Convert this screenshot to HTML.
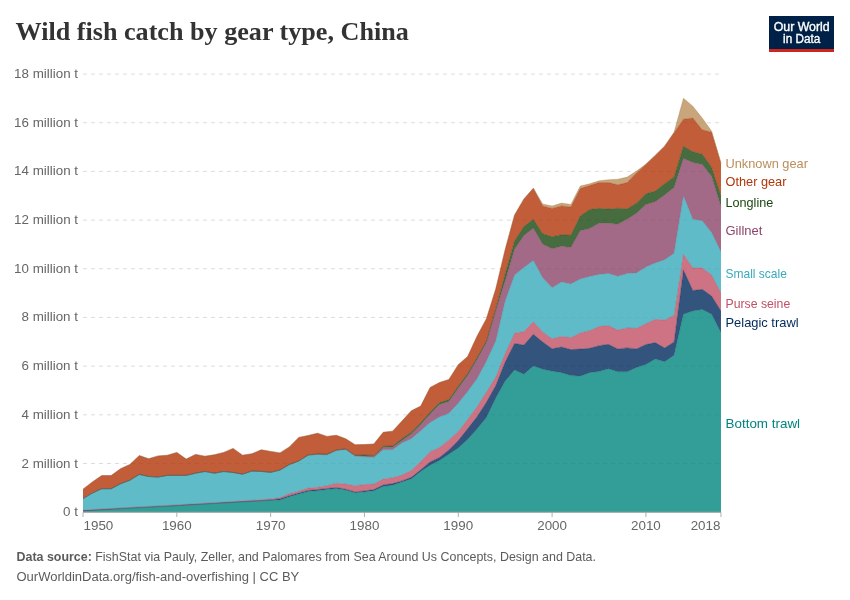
<!DOCTYPE html>
<html><head><meta charset="utf-8"><style>
html,body{margin:0;padding:0;background:#fff;width:850px;height:600px;overflow:hidden}
svg{display:block;will-change:transform}
.t{font-family:"Liberation Serif",serif;font-weight:bold;font-size:26px;fill:#333}
.ax text{font-family:"Liberation Sans",sans-serif;font-size:13px;fill:#666}
.lg text{font-family:"Liberation Sans",sans-serif;font-size:13px}
.ft{font-family:"Liberation Sans",sans-serif;fill:#5b5b5b}
.logo{font-family:"Liberation Sans",sans-serif;font-weight:normal;font-size:12px;fill:#fff;stroke:#fff;stroke-width:0.35px}
</style></head><body>
<svg width="850" height="600" viewBox="0 0 850 600">
<rect width="850" height="600" fill="#fff"/>
<text class="t" x="15.5" y="39.6" textLength="393.3" lengthAdjust="spacingAndGlyphs">Wild fish catch by gear type, China</text>
<rect x="769" y="16" width="65" height="36" fill="#002147"/>
<rect x="769" y="49" width="65" height="3" fill="#ce261e"/>
<text class="logo" x="801.7" y="30.6" text-anchor="middle" textLength="56" lengthAdjust="spacingAndGlyphs">Our World</text>
<text class="logo" x="801.7" y="42.6" text-anchor="middle" textLength="37.2" lengthAdjust="spacingAndGlyphs">in Data</text>
<g class="ax"><line x1="83" x2="721" y1="463.50" y2="463.50" stroke="#dddddd" stroke-width="1" stroke-dasharray="4,4"/><line x1="83" x2="721" y1="414.82" y2="414.82" stroke="#dddddd" stroke-width="1" stroke-dasharray="4,4"/><line x1="83" x2="721" y1="366.14" y2="366.14" stroke="#dddddd" stroke-width="1" stroke-dasharray="4,4"/><line x1="83" x2="721" y1="317.46" y2="317.46" stroke="#dddddd" stroke-width="1" stroke-dasharray="4,4"/><line x1="83" x2="721" y1="268.78" y2="268.78" stroke="#dddddd" stroke-width="1" stroke-dasharray="4,4"/><line x1="83" x2="721" y1="220.10" y2="220.10" stroke="#dddddd" stroke-width="1" stroke-dasharray="4,4"/><line x1="83" x2="721" y1="171.42" y2="171.42" stroke="#dddddd" stroke-width="1" stroke-dasharray="4,4"/><line x1="83" x2="721" y1="122.74" y2="122.74" stroke="#dddddd" stroke-width="1" stroke-dasharray="4,4"/><line x1="83" x2="721" y1="74.06" y2="74.06" stroke="#dddddd" stroke-width="1" stroke-dasharray="4,4"/><text x="78" y="516.18" text-anchor="end" textLength="14.88" lengthAdjust="spacingAndGlyphs">0 t</text><text x="78" y="467.50" text-anchor="end" textLength="56.46" lengthAdjust="spacingAndGlyphs">2 million t</text><text x="78" y="418.82" text-anchor="end" textLength="56.46" lengthAdjust="spacingAndGlyphs">4 million t</text><text x="78" y="370.14" text-anchor="end" textLength="56.46" lengthAdjust="spacingAndGlyphs">6 million t</text><text x="78" y="321.46" text-anchor="end" textLength="56.46" lengthAdjust="spacingAndGlyphs">8 million t</text><text x="78" y="272.78" text-anchor="end" textLength="63.88" lengthAdjust="spacingAndGlyphs">10 million t</text><text x="78" y="224.10" text-anchor="end" textLength="63.88" lengthAdjust="spacingAndGlyphs">12 million t</text><text x="78" y="175.42" text-anchor="end" textLength="63.88" lengthAdjust="spacingAndGlyphs">14 million t</text><text x="78" y="126.74" text-anchor="end" textLength="63.88" lengthAdjust="spacingAndGlyphs">16 million t</text><text x="78" y="78.06" text-anchor="end" textLength="63.88" lengthAdjust="spacingAndGlyphs">18 million t</text><line x1="83.00" x2="83.00" y1="512.5" y2="517" stroke="#b0b0b0" stroke-width="1"/><text x="83.50" y="530.2" text-anchor="start" textLength="29.8" lengthAdjust="spacingAndGlyphs">1950</text><line x1="176.82" x2="176.82" y1="512.5" y2="517" stroke="#b0b0b0" stroke-width="1"/><text x="176.82" y="530.2" text-anchor="middle" textLength="29.8" lengthAdjust="spacingAndGlyphs">1960</text><line x1="270.64" x2="270.64" y1="512.5" y2="517" stroke="#b0b0b0" stroke-width="1"/><text x="270.64" y="530.2" text-anchor="middle" textLength="29.8" lengthAdjust="spacingAndGlyphs">1970</text><line x1="364.46" x2="364.46" y1="512.5" y2="517" stroke="#b0b0b0" stroke-width="1"/><text x="364.46" y="530.2" text-anchor="middle" textLength="29.8" lengthAdjust="spacingAndGlyphs">1980</text><line x1="458.28" x2="458.28" y1="512.5" y2="517" stroke="#b0b0b0" stroke-width="1"/><text x="458.28" y="530.2" text-anchor="middle" textLength="29.8" lengthAdjust="spacingAndGlyphs">1990</text><line x1="552.10" x2="552.10" y1="512.5" y2="517" stroke="#b0b0b0" stroke-width="1"/><text x="552.10" y="530.2" text-anchor="middle" textLength="29.8" lengthAdjust="spacingAndGlyphs">2000</text><line x1="645.92" x2="645.92" y1="512.5" y2="517" stroke="#b0b0b0" stroke-width="1"/><text x="645.92" y="530.2" text-anchor="middle" textLength="29.8" lengthAdjust="spacingAndGlyphs">2010</text><line x1="720.98" x2="720.98" y1="512.5" y2="517" stroke="#b0b0b0" stroke-width="1"/><text x="720.48" y="530.2" text-anchor="end" textLength="29.8" lengthAdjust="spacingAndGlyphs">2018</text></g>
<g><path d="M83.00,511.00 L92.38,510.46 L101.76,509.92 L111.15,509.38 L120.53,508.84 L129.91,508.30 L139.29,507.80 L148.67,507.30 L158.06,506.80 L167.44,506.30 L176.82,505.80 L186.20,505.24 L195.58,504.68 L204.97,504.12 L214.35,503.56 L223.73,503.00 L233.11,502.50 L242.49,502.00 L251.88,501.50 L261.26,501.00 L270.64,500.50 L280.02,499.90 L289.40,496.80 L298.79,494.10 L308.17,491.50 L317.55,490.70 L326.93,489.60 L336.31,488.50 L345.70,490.10 L355.08,492.80 L364.46,492.00 L373.84,490.80 L383.22,486.50 L392.61,485.20 L401.99,482.00 L411.37,478.90 L420.75,471.50 L430.13,465.20 L439.52,460.50 L448.90,454.30 L458.28,448.00 L467.66,439.50 L477.04,429.00 L486.43,417.50 L495.81,398.00 L505.19,381.10 L514.57,370.00 L523.95,374.20 L533.34,365.90 L542.72,369.30 L552.10,371.20 L561.48,372.70 L570.86,375.60 L580.25,376.20 L589.63,372.70 L599.01,371.40 L608.39,368.80 L617.77,371.70 L627.16,371.80 L636.54,367.50 L645.92,364.40 L655.30,359.10 L664.68,361.80 L674.07,355.30 L683.45,314.30 L692.83,311.00 L702.21,309.50 L711.59,314.30 L720.98,332.80 L720.98,512.18 L711.59,512.18 L702.21,512.18 L692.83,512.18 L683.45,512.18 L674.07,512.18 L664.68,512.18 L655.30,512.18 L645.92,512.18 L636.54,512.18 L627.16,512.18 L617.77,512.18 L608.39,512.18 L599.01,512.18 L589.63,512.18 L580.25,512.18 L570.86,512.18 L561.48,512.18 L552.10,512.18 L542.72,512.18 L533.34,512.18 L523.95,512.18 L514.57,512.18 L505.19,512.18 L495.81,512.18 L486.43,512.18 L477.04,512.18 L467.66,512.18 L458.28,512.18 L448.90,512.18 L439.52,512.18 L430.13,512.18 L420.75,512.18 L411.37,512.18 L401.99,512.18 L392.61,512.18 L383.22,512.18 L373.84,512.18 L364.46,512.18 L355.08,512.18 L345.70,512.18 L336.31,512.18 L326.93,512.18 L317.55,512.18 L308.17,512.18 L298.79,512.18 L289.40,512.18 L280.02,512.18 L270.64,512.18 L261.26,512.18 L251.88,512.18 L242.49,512.18 L233.11,512.18 L223.73,512.18 L214.35,512.18 L204.97,512.18 L195.58,512.18 L186.20,512.18 L176.82,512.18 L167.44,512.18 L158.06,512.18 L148.67,512.18 L139.29,512.18 L129.91,512.18 L120.53,512.18 L111.15,512.18 L101.76,512.18 L92.38,512.18 L83.00,512.18 Z" fill="#00847E" fill-opacity="0.8"/><path d="M83.00,510.60 L92.38,510.06 L101.76,509.52 L111.15,508.98 L120.53,508.44 L129.91,507.90 L139.29,507.40 L148.67,506.90 L158.06,506.40 L167.44,505.90 L176.82,505.40 L186.20,504.84 L195.58,504.28 L204.97,503.72 L214.35,503.16 L223.73,502.60 L233.11,502.06 L242.49,501.52 L251.88,500.98 L261.26,500.44 L270.64,499.90 L280.02,498.80 L289.40,495.70 L298.79,493.10 L308.17,490.40 L317.55,489.60 L326.93,488.40 L336.31,487.60 L345.70,489.20 L355.08,492.00 L364.46,490.90 L373.84,489.60 L383.22,484.90 L392.61,483.60 L401.99,480.90 L411.37,477.30 L420.75,469.80 L430.13,461.90 L439.52,457.40 L448.90,450.00 L458.28,440.60 L467.66,428.80 L477.04,416.80 L486.43,402.30 L495.81,385.50 L505.19,362.00 L514.57,343.40 L523.95,345.10 L533.34,334.30 L542.72,342.00 L552.10,348.80 L561.48,347.00 L570.86,349.60 L580.25,349.10 L589.63,348.30 L599.01,345.70 L608.39,344.30 L617.77,348.90 L627.16,347.90 L636.54,348.90 L645.92,344.60 L655.30,342.60 L664.68,348.00 L674.07,341.90 L683.45,270.00 L692.83,290.50 L702.21,289.30 L711.59,296.00 L720.98,311.00 L720.98,332.80 L711.59,314.30 L702.21,309.50 L692.83,311.00 L683.45,314.30 L674.07,355.30 L664.68,361.80 L655.30,359.10 L645.92,364.40 L636.54,367.50 L627.16,371.80 L617.77,371.70 L608.39,368.80 L599.01,371.40 L589.63,372.70 L580.25,376.20 L570.86,375.60 L561.48,372.70 L552.10,371.20 L542.72,369.30 L533.34,365.90 L523.95,374.20 L514.57,370.00 L505.19,381.10 L495.81,398.00 L486.43,417.50 L477.04,429.00 L467.66,439.50 L458.28,448.00 L448.90,454.30 L439.52,460.50 L430.13,465.20 L420.75,471.50 L411.37,478.90 L401.99,482.00 L392.61,485.20 L383.22,486.50 L373.84,490.80 L364.46,492.00 L355.08,492.80 L345.70,490.10 L336.31,488.50 L326.93,489.60 L317.55,490.70 L308.17,491.50 L298.79,494.10 L289.40,496.80 L280.02,499.90 L270.64,500.50 L261.26,501.00 L251.88,501.50 L242.49,502.00 L233.11,502.50 L223.73,503.00 L214.35,503.56 L204.97,504.12 L195.58,504.68 L186.20,505.24 L176.82,505.80 L167.44,506.30 L158.06,506.80 L148.67,507.30 L139.29,507.80 L129.91,508.30 L120.53,508.84 L111.15,509.38 L101.76,509.92 L92.38,510.46 L83.00,511.00 Z" fill="#00295B" fill-opacity="0.8"/><path d="M83.00,510.10 L92.38,509.56 L101.76,509.02 L111.15,508.48 L120.53,507.94 L129.91,507.40 L139.29,506.90 L148.67,506.40 L158.06,505.90 L167.44,505.40 L176.82,504.90 L186.20,504.34 L195.58,503.78 L204.97,503.22 L214.35,502.66 L223.73,502.10 L233.11,501.48 L242.49,500.86 L251.88,500.24 L261.26,499.62 L270.64,499.00 L280.02,497.60 L289.40,493.60 L298.79,491.20 L308.17,488.10 L317.55,487.30 L326.93,485.70 L336.31,483.30 L345.70,484.10 L355.08,485.70 L364.46,484.60 L373.84,484.10 L383.22,479.00 L392.61,477.80 L401.99,475.10 L411.37,470.60 L420.75,461.50 L430.13,451.70 L439.52,447.40 L448.90,439.90 L458.28,431.50 L467.66,419.60 L477.04,406.80 L486.43,392.10 L495.81,377.00 L505.19,353.50 L514.57,333.30 L523.95,331.50 L533.34,321.80 L542.72,331.90 L552.10,338.80 L561.48,336.50 L570.86,337.60 L580.25,332.90 L589.63,330.70 L599.01,326.60 L608.39,325.50 L617.77,330.10 L627.16,327.90 L636.54,328.30 L645.92,323.70 L655.30,319.30 L664.68,320.00 L674.07,315.50 L683.45,254.30 L692.83,268.00 L702.21,267.80 L711.59,275.00 L720.98,293.00 L720.98,311.00 L711.59,296.00 L702.21,289.30 L692.83,290.50 L683.45,270.00 L674.07,341.90 L664.68,348.00 L655.30,342.60 L645.92,344.60 L636.54,348.90 L627.16,347.90 L617.77,348.90 L608.39,344.30 L599.01,345.70 L589.63,348.30 L580.25,349.10 L570.86,349.60 L561.48,347.00 L552.10,348.80 L542.72,342.00 L533.34,334.30 L523.95,345.10 L514.57,343.40 L505.19,362.00 L495.81,385.50 L486.43,402.30 L477.04,416.80 L467.66,428.80 L458.28,440.60 L448.90,450.00 L439.52,457.40 L430.13,461.90 L420.75,469.80 L411.37,477.30 L401.99,480.90 L392.61,483.60 L383.22,484.90 L373.84,489.60 L364.46,490.90 L355.08,492.00 L345.70,489.20 L336.31,487.60 L326.93,488.40 L317.55,489.60 L308.17,490.40 L298.79,493.10 L289.40,495.70 L280.02,498.80 L270.64,499.90 L261.26,500.44 L251.88,500.98 L242.49,501.52 L233.11,502.06 L223.73,502.60 L214.35,503.16 L204.97,503.72 L195.58,504.28 L186.20,504.84 L176.82,505.40 L167.44,505.90 L158.06,506.40 L148.67,506.90 L139.29,507.40 L129.91,507.90 L120.53,508.44 L111.15,508.98 L101.76,509.52 L92.38,510.06 L83.00,510.60 Z" fill="#C15065" fill-opacity="0.8"/><path d="M83.00,498.60 L92.38,493.10 L101.76,488.75 L111.15,488.75 L120.53,483.75 L129.91,480.25 L139.29,474.40 L148.67,476.50 L158.06,477.10 L167.44,475.40 L176.82,475.40 L186.20,475.40 L195.58,473.20 L204.97,471.50 L214.35,473.20 L223.73,471.50 L233.11,472.50 L242.49,474.20 L251.88,471.10 L261.26,471.40 L270.64,472.50 L280.02,470.30 L289.40,464.80 L298.79,461.30 L308.17,455.40 L317.55,454.50 L326.93,454.90 L336.31,450.80 L345.70,449.80 L355.08,456.30 L364.46,456.80 L373.84,457.60 L383.22,449.70 L392.61,449.70 L401.99,442.90 L411.37,438.80 L420.75,430.80 L430.13,422.60 L439.52,417.00 L448.90,413.30 L458.28,403.20 L467.66,391.60 L477.04,378.70 L486.43,361.20 L495.81,341.00 L505.19,301.00 L514.57,275.00 L523.95,267.50 L533.34,260.50 L542.72,277.80 L552.10,287.70 L561.48,282.10 L570.86,283.90 L580.25,279.00 L589.63,276.60 L599.01,274.40 L608.39,273.50 L617.77,276.20 L627.16,273.50 L636.54,272.90 L645.92,267.00 L655.30,263.00 L664.68,259.70 L674.07,253.30 L683.45,196.00 L692.83,219.30 L702.21,220.80 L711.59,232.50 L720.98,252.00 L720.98,293.00 L711.59,275.00 L702.21,267.80 L692.83,268.00 L683.45,254.30 L674.07,315.50 L664.68,320.00 L655.30,319.30 L645.92,323.70 L636.54,328.30 L627.16,327.90 L617.77,330.10 L608.39,325.50 L599.01,326.60 L589.63,330.70 L580.25,332.90 L570.86,337.60 L561.48,336.50 L552.10,338.80 L542.72,331.90 L533.34,321.80 L523.95,331.50 L514.57,333.30 L505.19,353.50 L495.81,377.00 L486.43,392.10 L477.04,406.80 L467.66,419.60 L458.28,431.50 L448.90,439.90 L439.52,447.40 L430.13,451.70 L420.75,461.50 L411.37,470.60 L401.99,475.10 L392.61,477.80 L383.22,479.00 L373.84,484.10 L364.46,484.60 L355.08,485.70 L345.70,484.10 L336.31,483.30 L326.93,485.70 L317.55,487.30 L308.17,488.10 L298.79,491.20 L289.40,493.60 L280.02,497.60 L270.64,499.00 L261.26,499.62 L251.88,500.24 L242.49,500.86 L233.11,501.48 L223.73,502.10 L214.35,502.66 L204.97,503.22 L195.58,503.78 L186.20,504.34 L176.82,504.90 L167.44,505.40 L158.06,505.90 L148.67,506.40 L139.29,506.90 L129.91,507.40 L120.53,507.94 L111.15,508.48 L101.76,509.02 L92.38,509.56 L83.00,510.10 Z" fill="#38AABA" fill-opacity="0.8"/><path d="M83.00,498.60 L92.38,493.10 L101.76,488.75 L111.15,488.75 L120.53,483.75 L129.91,480.25 L139.29,474.40 L148.67,476.50 L158.06,477.10 L167.44,475.40 L176.82,475.40 L186.20,475.40 L195.58,473.20 L204.97,471.50 L214.35,473.20 L223.73,471.50 L233.11,472.50 L242.49,474.20 L251.88,471.10 L261.26,471.40 L270.64,472.40 L280.02,470.10 L289.40,464.50 L298.79,461.00 L308.17,455.10 L317.55,454.10 L326.93,454.40 L336.31,450.20 L345.70,449.10 L355.08,455.60 L364.46,455.90 L373.84,456.30 L383.22,447.40 L392.61,447.20 L401.99,440.50 L411.37,434.10 L420.75,424.50 L430.13,413.90 L439.52,404.50 L448.90,401.50 L458.28,388.00 L467.66,375.50 L477.04,359.50 L486.43,342.50 L495.81,310.50 L505.19,281.00 L514.57,249.20 L523.95,235.40 L533.34,228.30 L542.72,244.30 L552.10,248.70 L561.48,246.30 L570.86,247.50 L580.25,230.70 L589.63,228.50 L599.01,223.30 L608.39,223.30 L617.77,224.30 L627.16,219.30 L636.54,213.30 L645.92,204.60 L655.30,201.80 L664.68,195.00 L674.07,187.50 L683.45,158.50 L692.83,162.60 L702.21,164.40 L711.59,176.30 L720.98,206.60 L720.98,252.00 L711.59,232.50 L702.21,220.80 L692.83,219.30 L683.45,196.00 L674.07,253.30 L664.68,259.70 L655.30,263.00 L645.92,267.00 L636.54,272.90 L627.16,273.50 L617.77,276.20 L608.39,273.50 L599.01,274.40 L589.63,276.60 L580.25,279.00 L570.86,283.90 L561.48,282.10 L552.10,287.70 L542.72,277.80 L533.34,260.50 L523.95,267.50 L514.57,275.00 L505.19,301.00 L495.81,341.00 L486.43,361.20 L477.04,378.70 L467.66,391.60 L458.28,403.20 L448.90,413.30 L439.52,417.00 L430.13,422.60 L420.75,430.80 L411.37,438.80 L401.99,442.90 L392.61,449.70 L383.22,449.70 L373.84,457.60 L364.46,456.80 L355.08,456.30 L345.70,449.80 L336.31,450.80 L326.93,454.90 L317.55,454.50 L308.17,455.40 L298.79,461.30 L289.40,464.80 L280.02,470.30 L270.64,472.50 L261.26,471.40 L251.88,471.10 L242.49,474.20 L233.11,472.50 L223.73,471.50 L214.35,473.20 L204.97,471.50 L195.58,473.20 L186.20,475.40 L176.82,475.40 L167.44,475.40 L158.06,477.10 L148.67,476.50 L139.29,474.40 L129.91,480.25 L120.53,483.75 L111.15,488.75 L101.76,488.75 L92.38,493.10 L83.00,498.60 Z" fill="#8C4569" fill-opacity="0.8"/><path d="M83.00,498.60 L92.38,493.10 L101.76,488.75 L111.15,488.75 L120.53,483.75 L129.91,480.25 L139.29,474.40 L148.67,476.50 L158.06,477.10 L167.44,475.40 L176.82,475.40 L186.20,475.40 L195.58,473.20 L204.97,471.50 L214.35,473.20 L223.73,471.50 L233.11,472.50 L242.49,474.20 L251.88,471.10 L261.26,471.40 L270.64,472.30 L280.02,470.00 L289.40,464.40 L298.79,460.90 L308.17,454.90 L317.55,453.90 L326.93,454.20 L336.31,449.90 L345.70,448.80 L355.08,455.10 L364.46,455.00 L373.84,455.40 L383.22,446.20 L392.61,446.00 L401.99,438.60 L411.37,432.20 L420.75,422.60 L430.13,412.00 L439.52,402.60 L448.90,399.60 L458.28,386.10 L467.66,373.60 L477.04,357.60 L486.43,340.60 L495.81,308.60 L505.19,274.00 L514.57,241.00 L523.95,226.50 L533.34,219.30 L542.72,233.80 L552.10,236.70 L561.48,234.70 L570.86,235.30 L580.25,216.00 L589.63,209.60 L599.01,208.30 L608.39,209.00 L617.77,208.30 L627.16,208.70 L636.54,203.20 L645.92,193.80 L655.30,191.10 L664.68,183.70 L674.07,177.00 L683.45,146.20 L692.83,151.80 L702.21,154.30 L711.59,167.30 L720.98,196.00 L720.98,206.60 L711.59,176.30 L702.21,164.40 L692.83,162.60 L683.45,158.50 L674.07,187.50 L664.68,195.00 L655.30,201.80 L645.92,204.60 L636.54,213.30 L627.16,219.30 L617.77,224.30 L608.39,223.30 L599.01,223.30 L589.63,228.50 L580.25,230.70 L570.86,247.50 L561.48,246.30 L552.10,248.70 L542.72,244.30 L533.34,228.30 L523.95,235.40 L514.57,249.20 L505.19,281.00 L495.81,310.50 L486.43,342.50 L477.04,359.50 L467.66,375.50 L458.28,388.00 L448.90,401.50 L439.52,404.50 L430.13,413.90 L420.75,424.50 L411.37,434.10 L401.99,440.50 L392.61,447.20 L383.22,447.40 L373.84,456.30 L364.46,455.90 L355.08,455.60 L345.70,449.10 L336.31,450.20 L326.93,454.40 L317.55,454.10 L308.17,455.10 L298.79,461.00 L289.40,464.50 L280.02,470.10 L270.64,472.40 L261.26,471.40 L251.88,471.10 L242.49,474.20 L233.11,472.50 L223.73,471.50 L214.35,473.20 L204.97,471.50 L195.58,473.20 L186.20,475.40 L176.82,475.40 L167.44,475.40 L158.06,477.10 L148.67,476.50 L139.29,474.40 L129.91,480.25 L120.53,483.75 L111.15,488.75 L101.76,488.75 L92.38,493.10 L83.00,498.60 Z" fill="#18470F" fill-opacity="0.8"/><path d="M83.00,489.20 L92.38,481.90 L101.76,475.60 L111.15,475.60 L120.53,468.75 L129.91,464.40 L139.29,455.60 L148.67,458.75 L158.06,455.90 L167.44,455.25 L176.82,452.40 L186.20,459.10 L195.58,454.40 L204.97,456.20 L214.35,454.80 L223.73,452.40 L233.11,448.40 L242.49,455.20 L251.88,453.80 L261.26,449.80 L270.64,451.40 L280.02,452.90 L289.40,446.90 L298.79,437.40 L308.17,435.50 L317.55,433.20 L326.93,436.40 L336.31,435.30 L345.70,438.80 L355.08,444.70 L364.46,444.50 L373.84,444.00 L383.22,432.30 L392.61,431.20 L401.99,421.10 L411.37,410.80 L420.75,406.10 L430.13,387.50 L439.52,382.50 L448.90,379.50 L458.28,364.70 L467.66,356.50 L477.04,336.20 L486.43,318.70 L495.81,288.80 L505.19,249.50 L514.57,215.00 L523.95,198.90 L533.34,188.20 L542.72,206.10 L552.10,208.50 L561.48,205.90 L570.86,207.10 L580.25,188.60 L589.63,185.50 L599.01,182.60 L608.39,182.60 L617.77,184.80 L627.16,182.60 L636.54,172.90 L645.92,164.40 L655.30,155.50 L664.68,146.20 L674.07,132.70 L683.45,119.20 L692.83,118.00 L702.21,129.80 L711.59,132.20 L720.98,163.50 L720.98,196.00 L711.59,167.30 L702.21,154.30 L692.83,151.80 L683.45,146.20 L674.07,177.00 L664.68,183.70 L655.30,191.10 L645.92,193.80 L636.54,203.20 L627.16,208.70 L617.77,208.30 L608.39,209.00 L599.01,208.30 L589.63,209.60 L580.25,216.00 L570.86,235.30 L561.48,234.70 L552.10,236.70 L542.72,233.80 L533.34,219.30 L523.95,226.50 L514.57,241.00 L505.19,274.00 L495.81,308.60 L486.43,340.60 L477.04,357.60 L467.66,373.60 L458.28,386.10 L448.90,399.60 L439.52,402.60 L430.13,412.00 L420.75,422.60 L411.37,432.20 L401.99,438.60 L392.61,446.00 L383.22,446.20 L373.84,455.40 L364.46,455.00 L355.08,455.10 L345.70,448.80 L336.31,449.90 L326.93,454.20 L317.55,453.90 L308.17,454.90 L298.79,460.90 L289.40,464.40 L280.02,470.00 L270.64,472.30 L261.26,471.40 L251.88,471.10 L242.49,474.20 L233.11,472.50 L223.73,471.50 L214.35,473.20 L204.97,471.50 L195.58,473.20 L186.20,475.40 L176.82,475.40 L167.44,475.40 L158.06,477.10 L148.67,476.50 L139.29,474.40 L129.91,480.25 L120.53,483.75 L111.15,488.75 L101.76,488.75 L92.38,493.10 L83.00,498.60 Z" fill="#B13507" fill-opacity="0.8"/><path d="M83.00,489.20 L92.38,481.90 L101.76,475.60 L111.15,475.60 L120.53,468.75 L129.91,464.40 L139.29,455.60 L148.67,458.75 L158.06,455.90 L167.44,455.25 L176.82,452.40 L186.20,459.10 L195.58,454.40 L204.97,456.20 L214.35,454.80 L223.73,452.40 L233.11,448.40 L242.49,455.20 L251.88,453.80 L261.26,449.80 L270.64,451.40 L280.02,452.90 L289.40,446.90 L298.79,437.40 L308.17,435.50 L317.55,433.20 L326.93,436.40 L336.31,435.30 L345.70,438.80 L355.08,444.70 L364.46,444.50 L373.84,444.00 L383.22,432.30 L392.61,431.20 L401.99,421.10 L411.37,410.80 L420.75,406.10 L430.13,387.50 L439.52,382.50 L448.90,379.50 L458.28,364.70 L467.66,356.50 L477.04,336.20 L486.43,318.70 L495.81,288.80 L505.19,249.50 L514.57,215.00 L523.95,198.90 L533.34,188.20 L542.72,204.00 L552.10,206.00 L561.48,203.10 L570.86,204.40 L580.25,186.10 L589.63,183.80 L599.01,180.80 L608.39,179.70 L617.77,179.30 L627.16,177.10 L636.54,171.10 L645.92,164.00 L655.30,155.20 L664.68,146.00 L674.07,132.30 L683.45,98.20 L692.83,106.20 L702.21,118.10 L711.59,131.10 L720.98,162.70 L720.98,163.50 L711.59,132.20 L702.21,129.80 L692.83,118.00 L683.45,119.20 L674.07,132.70 L664.68,146.20 L655.30,155.50 L645.92,164.40 L636.54,172.90 L627.16,182.60 L617.77,184.80 L608.39,182.60 L599.01,182.60 L589.63,185.50 L580.25,188.60 L570.86,207.10 L561.48,205.90 L552.10,208.50 L542.72,206.10 L533.34,188.20 L523.95,198.90 L514.57,215.00 L505.19,249.50 L495.81,288.80 L486.43,318.70 L477.04,336.20 L467.66,356.50 L458.28,364.70 L448.90,379.50 L439.52,382.50 L430.13,387.50 L420.75,406.10 L411.37,410.80 L401.99,421.10 L392.61,431.20 L383.22,432.30 L373.84,444.00 L364.46,444.50 L355.08,444.70 L345.70,438.80 L336.31,435.30 L326.93,436.40 L317.55,433.20 L308.17,435.50 L298.79,437.40 L289.40,446.90 L280.02,452.90 L270.64,451.40 L261.26,449.80 L251.88,453.80 L242.49,455.20 L233.11,448.40 L223.73,452.40 L214.35,454.80 L204.97,456.20 L195.58,454.40 L186.20,459.10 L176.82,452.40 L167.44,455.25 L158.06,455.90 L148.67,458.75 L139.29,455.60 L129.91,464.40 L120.53,468.75 L111.15,475.60 L101.76,475.60 L92.38,481.90 L83.00,489.20 Z" fill="#BC8E5A" fill-opacity="0.8"/></g><g><path d="M83.00,511.00 L92.38,510.46 L101.76,509.92 L111.15,509.38 L120.53,508.84 L129.91,508.30 L139.29,507.80 L148.67,507.30 L158.06,506.80 L167.44,506.30 L176.82,505.80 L186.20,505.24 L195.58,504.68 L204.97,504.12 L214.35,503.56 L223.73,503.00 L233.11,502.50 L242.49,502.00 L251.88,501.50 L261.26,501.00 L270.64,500.50 L280.02,499.90 L289.40,496.80 L298.79,494.10 L308.17,491.50 L317.55,490.70 L326.93,489.60 L336.31,488.50 L345.70,490.10 L355.08,492.80 L364.46,492.00 L373.84,490.80 L383.22,486.50 L392.61,485.20 L401.99,482.00 L411.37,478.90 L420.75,471.50 L430.13,465.20 L439.52,460.50 L448.90,454.30 L458.28,448.00 L467.66,439.50 L477.04,429.00 L486.43,417.50 L495.81,398.00 L505.19,381.10 L514.57,370.00 L523.95,374.20 L533.34,365.90 L542.72,369.30 L552.10,371.20 L561.48,372.70 L570.86,375.60 L580.25,376.20 L589.63,372.70 L599.01,371.40 L608.39,368.80 L617.77,371.70 L627.16,371.80 L636.54,367.50 L645.92,364.40 L655.30,359.10 L664.68,361.80 L674.07,355.30 L683.45,314.30 L692.83,311.00 L702.21,309.50 L711.59,314.30 L720.98,332.80" fill="none" stroke="#006e69" stroke-width="0.5" stroke-opacity="0.6" stroke-linejoin="round"/><path d="M83.00,510.60 L92.38,510.06 L101.76,509.52 L111.15,508.98 L120.53,508.44 L129.91,507.90 L139.29,507.40 L148.67,506.90 L158.06,506.40 L167.44,505.90 L176.82,505.40 L186.20,504.84 L195.58,504.28 L204.97,503.72 L214.35,503.16 L223.73,502.60 L233.11,502.06 L242.49,501.52 L251.88,500.98 L261.26,500.44 L270.64,499.90 L280.02,498.80 L289.40,495.70 L298.79,493.10 L308.17,490.40 L317.55,489.60 L326.93,488.40 L336.31,487.60 L345.70,489.20 L355.08,492.00 L364.46,490.90 L373.84,489.60 L383.22,484.90 L392.61,483.60 L401.99,480.90 L411.37,477.30 L420.75,469.80 L430.13,461.90 L439.52,457.40 L448.90,450.00 L458.28,440.60 L467.66,428.80 L477.04,416.80 L486.43,402.30 L495.81,385.50 L505.19,362.00 L514.57,343.40 L523.95,345.10 L533.34,334.30 L542.72,342.00 L552.10,348.80 L561.48,347.00 L570.86,349.60 L580.25,349.10 L589.63,348.30 L599.01,345.70 L608.39,344.30 L617.77,348.90 L627.16,347.90 L636.54,348.90 L645.92,344.60 L655.30,342.60 L664.68,348.00 L674.07,341.90 L683.45,270.00 L692.83,290.50 L702.21,289.30 L711.59,296.00 L720.98,311.00" fill="none" stroke="#00224c" stroke-width="0.5" stroke-opacity="0.6" stroke-linejoin="round"/><path d="M83.00,510.10 L92.38,509.56 L101.76,509.02 L111.15,508.48 L120.53,507.94 L129.91,507.40 L139.29,506.90 L148.67,506.40 L158.06,505.90 L167.44,505.40 L176.82,504.90 L186.20,504.34 L195.58,503.78 L204.97,503.22 L214.35,502.66 L223.73,502.10 L233.11,501.48 L242.49,500.86 L251.88,500.24 L261.26,499.62 L270.64,499.00 L280.02,497.60 L289.40,493.60 L298.79,491.20 L308.17,488.10 L317.55,487.30 L326.93,485.70 L336.31,483.30 L345.70,484.10 L355.08,485.70 L364.46,484.60 L373.84,484.10 L383.22,479.00 L392.61,477.80 L401.99,475.10 L411.37,470.60 L420.75,461.50 L430.13,451.70 L439.52,447.40 L448.90,439.90 L458.28,431.50 L467.66,419.60 L477.04,406.80 L486.43,392.10 L495.81,377.00 L505.19,353.50 L514.57,333.30 L523.95,331.50 L533.34,321.80 L542.72,331.90 L552.10,338.80 L561.48,336.50 L570.86,337.60 L580.25,332.90 L589.63,330.70 L599.01,326.60 L608.39,325.50 L617.77,330.10 L627.16,327.90 L636.54,328.30 L645.92,323.70 L655.30,319.30 L664.68,320.00 L674.07,315.50 L683.45,254.30 L692.83,268.00 L702.21,267.80 L711.59,275.00 L720.98,293.00" fill="none" stroke="#a14355" stroke-width="0.5" stroke-opacity="0.6" stroke-linejoin="round"/><path d="M83.00,498.60 L92.38,493.10 L101.76,488.75 L111.15,488.75 L120.53,483.75 L129.91,480.25 L139.29,474.40 L148.67,476.50 L158.06,477.10 L167.44,475.40 L176.82,475.40 L186.20,475.40 L195.58,473.20 L204.97,471.50 L214.35,473.20 L223.73,471.50 L233.11,472.50 L242.49,474.20 L251.88,471.10 L261.26,471.40 L270.64,472.50 L280.02,470.30 L289.40,464.80 L298.79,461.30 L308.17,455.40 L317.55,454.50 L326.93,454.90 L336.31,450.80 L345.70,449.80 L355.08,456.30 L364.46,456.80 L373.84,457.60 L383.22,449.70 L392.61,449.70 L401.99,442.90 L411.37,438.80 L420.75,430.80 L430.13,422.60 L439.52,417.00 L448.90,413.30 L458.28,403.20 L467.66,391.60 L477.04,378.70 L486.43,361.20 L495.81,341.00 L505.19,301.00 L514.57,275.00 L523.95,267.50 L533.34,260.50 L542.72,277.80 L552.10,287.70 L561.48,282.10 L570.86,283.90 L580.25,279.00 L589.63,276.60 L599.01,274.40 L608.39,273.50 L617.77,276.20 L627.16,273.50 L636.54,272.90 L645.92,267.00 L655.30,263.00 L664.68,259.70 L674.07,253.30 L683.45,196.00 L692.83,219.30 L702.21,220.80 L711.59,232.50 L720.98,252.00" fill="none" stroke="#2f8e9c" stroke-width="0.5" stroke-opacity="0.6" stroke-linejoin="round"/><path d="M83.00,498.60 L92.38,493.10 L101.76,488.75 L111.15,488.75 L120.53,483.75 L129.91,480.25 L139.29,474.40 L148.67,476.50 L158.06,477.10 L167.44,475.40 L176.82,475.40 L186.20,475.40 L195.58,473.20 L204.97,471.50 L214.35,473.20 L223.73,471.50 L233.11,472.50 L242.49,474.20 L251.88,471.10 L261.26,471.40 L270.64,472.40 L280.02,470.10 L289.40,464.50 L298.79,461.00 L308.17,455.10 L317.55,454.10 L326.93,454.40 L336.31,450.20 L345.70,449.10 L355.08,455.60 L364.46,455.90 L373.84,456.30 L383.22,447.40 L392.61,447.20 L401.99,440.50 L411.37,434.10 L420.75,424.50 L430.13,413.90 L439.52,404.50 L448.90,401.50 L458.28,388.00 L467.66,375.50 L477.04,359.50 L486.43,342.50 L495.81,310.50 L505.19,281.00 L514.57,249.20 L523.95,235.40 L533.34,228.30 L542.72,244.30 L552.10,248.70 L561.48,246.30 L570.86,247.50 L580.25,230.70 L589.63,228.50 L599.01,223.30 L608.39,223.30 L617.77,224.30 L627.16,219.30 L636.54,213.30 L645.92,204.60 L655.30,201.80 L664.68,195.00 L674.07,187.50 L683.45,158.50 L692.83,162.60 L702.21,164.40 L711.59,176.30 L720.98,206.60" fill="none" stroke="#753a58" stroke-width="0.5" stroke-opacity="0.6" stroke-linejoin="round"/><path d="M83.00,498.60 L92.38,493.10 L101.76,488.75 L111.15,488.75 L120.53,483.75 L129.91,480.25 L139.29,474.40 L148.67,476.50 L158.06,477.10 L167.44,475.40 L176.82,475.40 L186.20,475.40 L195.58,473.20 L204.97,471.50 L214.35,473.20 L223.73,471.50 L233.11,472.50 L242.49,474.20 L251.88,471.10 L261.26,471.40 L270.64,472.30 L280.02,470.00 L289.40,464.40 L298.79,460.90 L308.17,454.90 L317.55,453.90 L326.93,454.20 L336.31,449.90 L345.70,448.80 L355.08,455.10 L364.46,455.00 L373.84,455.40 L383.22,446.20 L392.61,446.00 L401.99,438.60 L411.37,432.20 L420.75,422.60 L430.13,412.00 L439.52,402.60 L448.90,399.60 L458.28,386.10 L467.66,373.60 L477.04,357.60 L486.43,340.60 L495.81,308.60 L505.19,274.00 L514.57,241.00 L523.95,226.50 L533.34,219.30 L542.72,233.80 L552.10,236.70 L561.48,234.70 L570.86,235.30 L580.25,216.00 L589.63,209.60 L599.01,208.30 L608.39,209.00 L617.77,208.30 L627.16,208.70 L636.54,203.20 L645.92,193.80 L655.30,191.10 L664.68,183.70 L674.07,177.00 L683.45,146.20 L692.83,151.80 L702.21,154.30 L711.59,167.30 L720.98,196.00" fill="none" stroke="#143b0d" stroke-width="0.5" stroke-opacity="0.6" stroke-linejoin="round"/><path d="M83.00,489.20 L92.38,481.90 L101.76,475.60 L111.15,475.60 L120.53,468.75 L129.91,464.40 L139.29,455.60 L148.67,458.75 L158.06,455.90 L167.44,455.25 L176.82,452.40 L186.20,459.10 L195.58,454.40 L204.97,456.20 L214.35,454.80 L223.73,452.40 L233.11,448.40 L242.49,455.20 L251.88,453.80 L261.26,449.80 L270.64,451.40 L280.02,452.90 L289.40,446.90 L298.79,437.40 L308.17,435.50 L317.55,433.20 L326.93,436.40 L336.31,435.30 L345.70,438.80 L355.08,444.70 L364.46,444.50 L373.84,444.00 L383.22,432.30 L392.61,431.20 L401.99,421.10 L411.37,410.80 L420.75,406.10 L430.13,387.50 L439.52,382.50 L448.90,379.50 L458.28,364.70 L467.66,356.50 L477.04,336.20 L486.43,318.70 L495.81,288.80 L505.19,249.50 L514.57,215.00 L523.95,198.90 L533.34,188.20 L542.72,206.10 L552.10,208.50 L561.48,205.90 L570.86,207.10 L580.25,188.60 L589.63,185.50 L599.01,182.60 L608.39,182.60 L617.77,184.80 L627.16,182.60 L636.54,172.90 L645.92,164.40 L655.30,155.50 L664.68,146.20 L674.07,132.70 L683.45,119.20 L692.83,118.00 L702.21,129.80 L711.59,132.20 L720.98,163.50" fill="none" stroke="#942c06" stroke-width="0.5" stroke-opacity="0.6" stroke-linejoin="round"/><path d="M83.00,489.20 L92.38,481.90 L101.76,475.60 L111.15,475.60 L120.53,468.75 L129.91,464.40 L139.29,455.60 L148.67,458.75 L158.06,455.90 L167.44,455.25 L176.82,452.40 L186.20,459.10 L195.58,454.40 L204.97,456.20 L214.35,454.80 L223.73,452.40 L233.11,448.40 L242.49,455.20 L251.88,453.80 L261.26,449.80 L270.64,451.40 L280.02,452.90 L289.40,446.90 L298.79,437.40 L308.17,435.50 L317.55,433.20 L326.93,436.40 L336.31,435.30 L345.70,438.80 L355.08,444.70 L364.46,444.50 L373.84,444.00 L383.22,432.30 L392.61,431.20 L401.99,421.10 L411.37,410.80 L420.75,406.10 L430.13,387.50 L439.52,382.50 L448.90,379.50 L458.28,364.70 L467.66,356.50 L477.04,336.20 L486.43,318.70 L495.81,288.80 L505.19,249.50 L514.57,215.00 L523.95,198.90 L533.34,188.20 L542.72,204.00 L552.10,206.00 L561.48,203.10 L570.86,204.40 L580.25,186.10 L589.63,183.80 L599.01,180.80 L608.39,179.70 L617.77,179.30 L627.16,177.10 L636.54,171.10 L645.92,164.00 L655.30,155.20 L664.68,146.00 L674.07,132.30 L683.45,98.20 L692.83,106.20 L702.21,118.10 L711.59,131.10 L720.98,162.70" fill="none" stroke="#9d774b" stroke-width="0.5" stroke-opacity="0.6" stroke-linejoin="round"/></g><line x1="83" x2="721" y1="512.18" y2="512.18" stroke="#999" stroke-width="1"/>
<g class="lg"><text x="725.5" y="168.4" fill="#BC8E5A" textLength="82.4" lengthAdjust="spacingAndGlyphs">Unknown gear</text><text x="725.5" y="185.6" fill="#B13507" textLength="60.95" lengthAdjust="spacingAndGlyphs">Other gear</text><text x="725.5" y="206.9" fill="#18470F" textLength="47.8" lengthAdjust="spacingAndGlyphs">Longline</text><text x="725.5" y="234.9" fill="#8C4569" textLength="36.86" lengthAdjust="spacingAndGlyphs">Gillnet</text><text x="725.5" y="278.3" fill="#38AABA" textLength="61.4" lengthAdjust="spacingAndGlyphs">Small scale</text><text x="725.5" y="307.6" fill="#C15065" textLength="64.7" lengthAdjust="spacingAndGlyphs">Purse seine</text><text x="725.5" y="326.9" fill="#00295B" textLength="73.1" lengthAdjust="spacingAndGlyphs">Pelagic trawl</text><text x="725.5" y="427.6" fill="#00847E" textLength="74.6" lengthAdjust="spacingAndGlyphs">Bottom trawl</text></g>
<text class="ft" x="16.5" y="560.8" font-size="12.4" textLength="579.5" lengthAdjust="spacingAndGlyphs"><tspan font-weight="bold">Data source:</tspan> FishStat via Pauly, Zeller, and Palomares from Sea Around Us Concepts, Design and Data.</text>
<text class="ft" x="16.5" y="580.8" font-size="12.9" textLength="282.8" lengthAdjust="spacingAndGlyphs">OurWorldinData.org/fish-and-overfishing | CC BY</text>
</svg>
</body></html>
